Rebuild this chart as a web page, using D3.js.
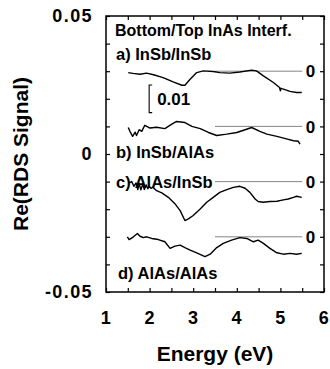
<!DOCTYPE html>
<html>
<head>
<meta charset="utf-8">
<script src="https://cdn.jsdelivr.net/npm/d3@7"></script>
<style>
  body { margin: 0; background: #fff; }
  text { font-family: "Liberation Sans", Arial, Helvetica, sans-serif; font-weight: bold; fill: #000; }
</style>
</head>
<body>
<svg width="330" height="369"></svg>
<script>
// spectra (relative to each curve's own zero line)
const energyA = [1.51, 1.62, 1.78, 1.93, 2.09, 2.31, 2.54, 2.74, 2.81, 2.93, 3.08, 3.23, 3.46, 3.61, 3.84, 4.07, 4.34, 4.45, 4.61, 4.84, 4.98, 5.0, 5.01, 5.07, 5.22, 5.37, 5.49];
const rdsA = [-0.0005, -0.0008, -0.0011, -0.0007, -0.0013, -0.0023, -0.0039, -0.0051, -0.0051, -0.0029, -0.0005, 0.0001, -0.0001, -0.0005, -0.0007, -0.0003, 0.0004, 0.0001, -0.0017, -0.0041, -0.0059, -0.0071, -0.0062, -0.0065, -0.0073, -0.0077, -0.0077];

const energyB = [1.51, 1.55, 1.61, 1.67, 1.70, 1.76, 1.82, 1.89, 2.01, 2.16, 2.35, 2.51, 2.62, 2.81, 2.97, 3.16, 3.35, 3.54, 3.77, 4.00, 4.19, 4.34, 4.53, 4.69, 4.92, 5.14, 5.30, 5.41, 5.45];
const rdsB = [-0.0004, -0.0018, -0.0036, -0.0021, -0.0033, -0.0012, -0.0018, 0.0004, -0.0006, -0.0003, -0.0008, 0.0008, 0.0018, 0.0014, 0, -0.0008, -0.0022, -0.0033, -0.0028, -0.0022, -0.0012, -0.0004, -0.0018, -0.0028, -0.0036, -0.0045, -0.0052, -0.0054, -0.0064];

const energyC = [1.53, 1.59, 1.64, 1.69, 1.73, 1.76, 1.80, 1.84, 1.88, 1.92, 1.96, 1.99, 2.03, 2.08, 2.16, 2.28, 2.43, 2.58, 2.70, 2.81, 2.89, 3.00, 3.16, 3.31, 3.46, 3.61, 3.77, 3.92, 4.07, 4.19, 4.30, 4.42, 4.49, 4.61, 4.76, 4.92, 5.07, 5.18, 5.30, 5.37, 5.49];
const rdsC = [-0.0005, 0, -0.0017, -0.0005, -0.0029, -0.0007, -0.003, -0.001, -0.0029, -0.0012, -0.0026, -0.0017, -0.0024, -0.0021, -0.0033, -0.0041, -0.0057, -0.008, -0.0105, -0.0141, -0.0135, -0.0123, -0.0099, -0.0075, -0.0057, -0.0039, -0.0029, -0.0021, -0.0017, -0.0024, -0.0039, -0.0063, -0.0072, -0.0075, -0.0072, -0.0071, -0.0066, -0.0063, -0.0057, -0.0053, -0.0057];

const energyD = [1.49, 1.53, 1.63, 1.72, 1.78, 1.86, 1.93, 2.05, 2.20, 2.35, 2.47, 2.58, 2.70, 2.81, 2.93, 3.08, 3.27, 3.39, 3.54, 3.69, 3.88, 4.07, 4.23, 4.38, 4.49, 4.61, 4.76, 4.92, 5.07, 5.22, 5.37, 5.49];
const rdsD = [0, -0.001, 0, 0.0012, 0.0002, -0.0003, 0, -0.0006, -0.001, -0.0018, -0.0042, -0.0034, -0.003, -0.0039, -0.0048, -0.0058, -0.0072, -0.0063, -0.0039, -0.0024, -0.0012, -0.0003, -0.0006, -0.0018, -0.0012, -0.0024, -0.0042, -0.0058, -0.0063, -0.006, -0.0063, -0.006];

const offsets = [0.03, 0.01, -0.01, -0.03];
const curveLabels = ["a) InSb/InSb", "b) InSb/AlAs", "c) AlAs/InSb", "d) AlAs/AlAs"];
const yTickLabels = { "0.05": "0.05", "0": "0", "-0.05": "-0.05" };
const xTickLabels = ["1", "2", "3", "4", "5", "6"];

const svg = d3.select("svg");
const margin = { top: 16, right: 6, bottom: 77, left: 106 };
const width = +svg.attr("width") - margin.left - margin.right;
const height = +svg.attr("height") - margin.top - margin.bottom;

const x = d3.scaleLinear().domain([1, 6]).range([0, width]);
const y = d3.scaleLinear().domain([-0.05, 0.05]).range([height, 0]);

const g = svg.append("g").attr("transform", `translate(${margin.left},${margin.top})`);

const series = [
  { e: energyA, v: rdsA },
  { e: energyB, v: rdsB },
  { e: energyC, v: rdsC },
  { e: energyD, v: rdsD }
];

// zero lines
g.selectAll("line.zero")
  .data(offsets)
  .enter().append("line")
  .attr("x1", x(3.5)).attr("x2", x(5.5))
  .attr("y1", d => y(d)).attr("y2", d => y(d))
  .attr("stroke", "#666").attr("stroke-width", 0.8);

g.selectAll("text.zero")
  .data(offsets)
  .enter().append("text")
  .attr("x", x(5.69)).attr("y", d => y(d))
  .attr("dy", "0.36em")
  .attr("text-anchor", "middle")
  .style("font-size", "17px")
  .text("0");

// spectra
const line = d3.line().x(d => x(d[0])).y(d => y(d[1]));
series.forEach((s, i) => {
  const pts = s.e.map((e, k) => [e, s.v[k] + offsets[i]]);
  g.append("path")
    .attr("d", line(pts))
    .attr("fill", "none")
    .attr("stroke", "#000")
    .attr("stroke-width", 1.4)
    .attr("stroke-linejoin", "round");
});

// labels
const labelPos = [[10, 44], [10, 142], [10, 172], [12, 263]];
g.append("text").attr("x", 9).attr("y", 20).style("font-size", "16px").text("Bottom/Top InAs Interf.");
curveLabels.forEach((t, i) => {
  g.append("text")
    .attr("x", labelPos[i][0]).attr("y", labelPos[i][1])
    .style("font-size", "16.5px")
    .text(t);
});

// 0.01 scale bar
const sbx = x(1.99);
g.append("path")
  .attr("d", `M${sbx + 3},${y(0.025)}H${sbx}V${y(0.015)}H${sbx + 3}`)
  .attr("fill", "none").attr("stroke", "#000").attr("stroke-width", 1.1);
g.append("text").attr("x", sbx + 8).attr("y", 89).style("font-size", "17px").text("0.01");

// axes
const yTicks = d3.range(-5, 6).map(d => d / 100);
const xTicks = d3.range(2, 13).map(d => d / 2);
const fmtY = d => yTickLabels[String(+d.toFixed(2))] || "";
const fmtX = d => Number.isInteger(d) ? xTickLabels[d - 1] : "";

const styleAxis = sel => {
  sel.select(".domain").remove();
  sel.selectAll("line").attr("stroke", "#000").attr("stroke-width", 1.2);
  sel.selectAll("text").style("font-size", "18px").style("letter-spacing", "1.4px")
    .style("font-family", "'Liberation Sans', Arial, sans-serif").style("font-weight", "bold");
};

g.append("g")
  .call(d3.axisLeft(y).tickValues(yTicks).tickSize(-4).tickPadding(13).tickFormat(fmtY))
  .call(styleAxis);
g.append("g").attr("transform", `translate(${width},0)`)
  .call(d3.axisRight(y).tickValues(yTicks).tickSize(-4).tickFormat(""))
  .call(styleAxis);
g.append("g").attr("transform", `translate(0,${height})`)
  .call(d3.axisBottom(x).tickValues(xTicks).tickSize(-4).tickPadding(19).tickFormat(fmtX))
  .call(styleAxis);
g.append("g")
  .call(d3.axisTop(x).tickValues(xTicks).tickSize(-4).tickFormat(""))
  .call(styleAxis);

g.append("rect")
  .attr("width", width).attr("height", height)
  .attr("fill", "none").attr("stroke", "#000").attr("stroke-width", 1.5);

// axis titles
svg.append("text")
  .attr("x", margin.left + width / 2).attr("y", 361)
  .attr("text-anchor", "middle")
  .style("font-size", "21px")
  .text("Energy (eV)");

svg.append("text")
  .attr("transform", `translate(28,${margin.top + height / 2}) rotate(-90)`)
  .attr("text-anchor", "middle")
  .style("font-size", "21px")
  .text("Re(RDS Signal)");
</script>
</body>
</html>
